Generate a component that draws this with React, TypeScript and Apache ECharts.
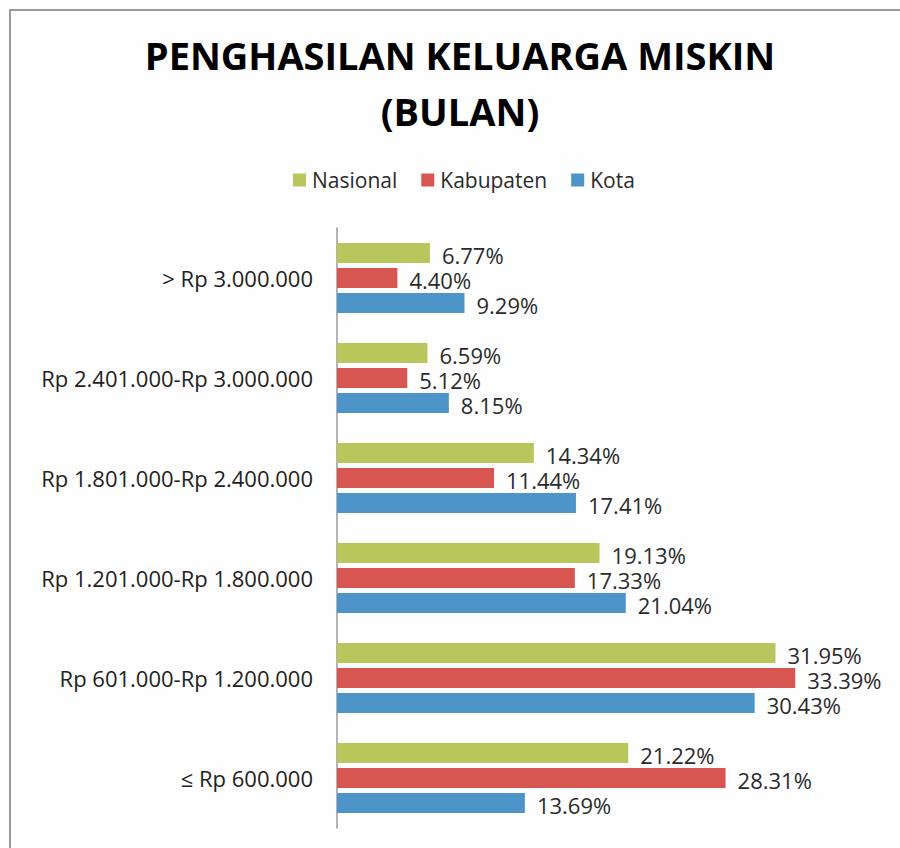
import React, { useEffect, useRef } from "react";
import * as echarts from "echarts";

const titleLines = ["PENGHASILAN KELUARGA MISKIN", "(BULAN)"];
const categories = [
  "≤ Rp 600.000",
  "Rp 601.000-Rp 1.200.000",
  "Rp 1.201.000-Rp 1.800.000",
  "Rp 1.801.000-Rp 2.400.000",
  "Rp 2.401.000-Rp 3.000.000",
  "> Rp 3.000.000",
];
const seriesNames = ["Nasional", "Kabupaten", "Kota"];
const nasional = [21.22, 31.95, 19.13, 14.34, 6.59, 6.77];
const kabupaten = [28.31, 33.39, 17.33, 11.44, 5.12, 4.4];
const kota = [13.69, 30.43, 21.04, 17.41, 8.15, 9.29];
const colors = { Nasional: "#B9C65B", Kabupaten: "#D75652", Kota: "#4D95C9" };

const FONT = "'Open Sans', 'Noto Sans', sans-serif";

export default function App() {
  const ref = useRef<HTMLDivElement>(null);
  useEffect(() => {
    if (!ref.current) return;
    const chart = echarts.init(ref.current, null, { renderer: "svg" });
    const mk = (name: string, data: number[]) => ({
      name,
      type: "bar",
      data,
      barWidth: 20,
      barGap: "25%",
      itemStyle: { color: (colors as any)[name] },
      label: {
        show: true,
        position: "right",
        distance: 12,
        offset: [0, 2],
        fontSize: 22,
        lineHeight: 22,
        fontFamily: FONT,
        color: "#2b2b2b",
        formatter: (p: any) => p.value.toFixed(2) + "%",
      },
    });
    chart.setOption({
      animation: false,
      backgroundColor: "#fefefe",
      textStyle: { fontFamily: FONT },
      graphic: [
        {
          type: "rect",
          shape: { x: 10, y: 10, width: 1000, height: 1000 },
          style: { fill: "none", stroke: "#9a9a9a", lineWidth: 2 },
        },
        {
          type: "text",
          x: 460,
          y: 55,
          style: {
            text: titleLines[0],
            font: `bold 38px ${FONT}`,
            fill: "#000",
            textAlign: "center",
            textVerticalAlign: "middle",
          },
        },
        {
          type: "text",
          x: 460,
          y: 111,
          style: {
            text: titleLines[1],
            font: `bold 38px ${FONT}`,
            fill: "#000",
            textAlign: "center",
            textVerticalAlign: "middle",
          },
        },
      ],
      legend: {
        data: seriesNames,
        left: 288,
        top: 163,
        itemWidth: 13,
        itemHeight: 13,
        itemGap: 24,
        icon: "rect",
        textStyle: {
          fontSize: 21,
          fontFamily: FONT,
          color: "#2b2b2b",
          lineHeight: 24,
          padding: [0, 0, 0, 1],
        },
      },
      grid: { left: 337, width: 549, top: 228, height: 600, containLabel: false },
      xAxis: { type: "value", min: 0, max: 40, show: false },
      yAxis: {
        type: "category",
        data: categories,
        axisLine: { show: true, lineStyle: { color: "#9a9a9a", width: 1.5 } },
        axisTick: { show: false },
        axisLabel: {
          fontSize: 22,
          fontFamily: FONT,
          color: "#222",
          margin: 24,
        },
        splitLine: { show: false },
      },
      series: [mk("Nasional", nasional), mk("Kabupaten", kabupaten), mk("Kota", kota)],
    });
    return () => chart.dispose();
  }, []);
  return (
    <div
      ref={ref}
      style={{ position: "absolute", left: 0, top: 0, width: 900, height: 848 }}
    />
  );
}
